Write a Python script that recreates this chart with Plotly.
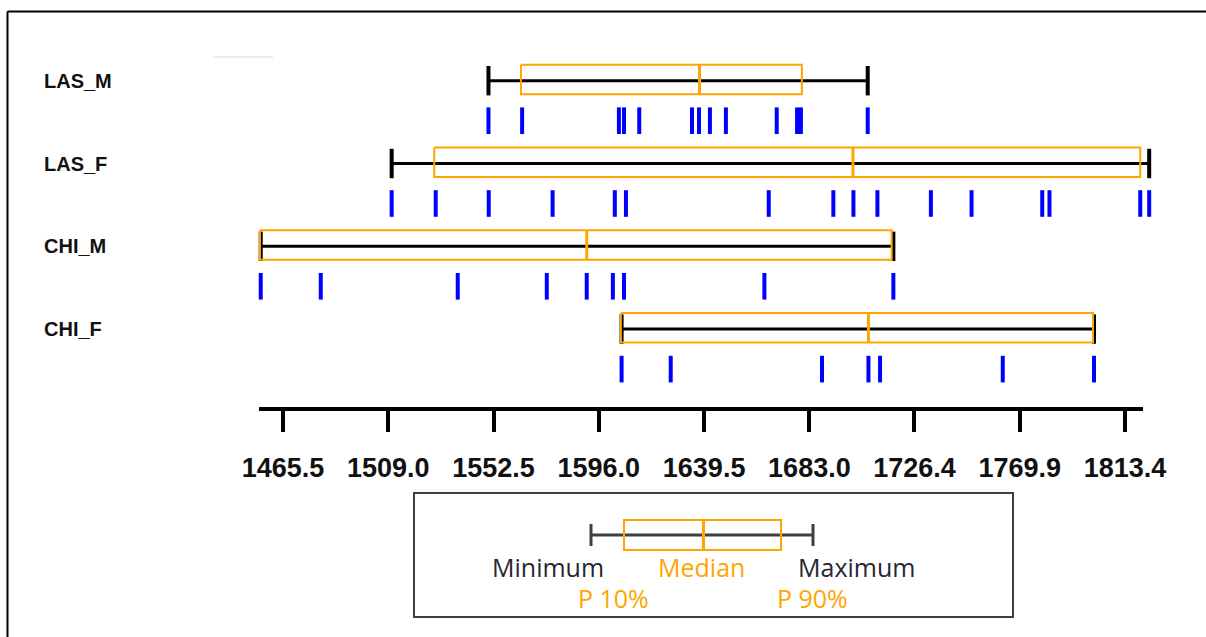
import plotly.graph_objects as go

# ---------------- data ----------------
categories = ["LAS_M", "LAS_F", "CHI_M", "CHI_F"]

las_m = [1550.4, 1564.3, 1604.3, 1606.4, 1612.7, 1634.5, 1637.4, 1641.9,
         1648.5, 1669.5, 1677.9, 1679.5, 1707.1]
las_f = [1510.4, 1528.6, 1550.5, 1576.9, 1602.6, 1607.2, 1666.2, 1692.9,
         1701.2, 1711.1, 1733.2, 1750.0, 1779.2, 1782.2, 1819.7, 1823.4]
chi_m = [1456.3, 1481.1, 1537.7, 1574.5, 1591.0, 1601.8, 1606.4, 1664.4, 1717.7]
chi_f = [1605.4, 1625.7, 1688.2, 1707.4, 1712.2, 1762.9, 1800.6]

p10 = [1563.8, 1528.0, 1456.0, 1605.1]
median = [1637.6, 1701.0, 1591.0, 1707.4]
p90 = [1679.9, 1819.7, 1717.0, 1800.2]

tick_labels = ["1465.5", "1509.0", "1552.5", "1596.0", "1639.5",
               "1683.0", "1726.4", "1769.9", "1813.4"]

series = [las_m, las_f, chi_m, chi_f]

# ---------------- layout constants ----------------
W, H = 1206, 637
PX_PER_UNIT = 2.4202
X_REF_VAL, X_REF_PX = 1465.5, 283.0
x_lo = X_REF_VAL - X_REF_PX / PX_PER_UNIT
x_hi = x_lo + W / PX_PER_UNIT

PLOT_BOTTOM_PX = 409.0
ROW0_PX, ROW_STEP_PX = 80.7, 82.8
y_top = -ROW0_PX / ROW_STEP_PX
y_bot = (PLOT_BOTTOM_PX - ROW0_PX) / ROW_STEP_PX

BOX_UP = 16.0 / ROW_STEP_PX
BOX_DOWN = 13.5 / ROW_STEP_PX
TICK_OFF = 40.0 / ROW_STEP_PX

AXIS_START = X_REF_VAL - (283 - 259) / PX_PER_UNIT
AXIS_END = X_REF_VAL + (1143 - 283) / PX_PER_UNIT

ORANGE = "#FFA500"
BLUE = "#0000FF"


def px_x(px):
    return px / W


def px_y(py):
    return 1 - py / H


fig = go.Figure()

for i, vals in enumerate(series):
    mn, mx = min(vals), max(vals)
    # whisker line
    fig.add_trace(go.Scatter(x=[mn, mx], y=[i, i], mode="lines",
                             line=dict(color="black", width=3),
                             hoverinfo="skip", showlegend=False))
    # caps
    fig.add_trace(go.Scatter(x=[mn, mx], y=[i, i], mode="markers",
                             marker=dict(symbol="line-ns", size=21,
                                         line=dict(color="black", width=4)),
                             hoverinfo="skip", showlegend=False))
    # P10-P90 box
    fig.add_trace(go.Scatter(
        x=[p10[i], p90[i], p90[i], p10[i], p10[i]],
        y=[i - BOX_UP, i - BOX_UP, i + BOX_DOWN, i + BOX_DOWN, i - BOX_UP],
        mode="lines", line=dict(color=ORANGE, width=2),
        hoverinfo="skip", showlegend=False))
    # median
    fig.add_trace(go.Scatter(x=[median[i], median[i]], y=[i - BOX_UP, i + BOX_DOWN],
                             mode="lines", line=dict(color=ORANGE, width=3),
                             hoverinfo="skip", showlegend=False))
    # individual values
    fig.add_trace(go.Scatter(x=vals, y=[i + TICK_OFF] * len(vals), mode="markers",
                             marker=dict(symbol="line-ns", size=19,
                                         line=dict(color=BLUE, width=4)),
                             hoverinfo="skip", showlegend=False))

annotations = []
for i, c in enumerate(categories):
    annotations.append(dict(text=c, x=px_x(42), xref="paper", y=i, yref="y",
                            xanchor="left", yanchor="middle", showarrow=False,
                            font=dict(family="Liberation Sans", size=20,
                                      color="#111111", weight="bold")))

shapes = []
# axis line
shapes.append(dict(type="line", xref="x", yref="paper",
                   x0=AXIS_START, x1=AXIS_END,
                   y0=px_y(PLOT_BOTTOM_PX), y1=px_y(PLOT_BOTTOM_PX),
                   line=dict(color="black", width=4)))
# outer frame (top + left)
shapes.append(dict(type="line", xref="paper", yref="paper",
                   x0=px_x(7.5), x1=1, y0=px_y(11.5), y1=px_y(11.5),
                   line=dict(color="black", width=2)))
shapes.append(dict(type="line", xref="paper", yref="paper",
                   x0=px_x(7.5), x1=px_x(7.5), y0=px_y(11.5), y1=0,
                   line=dict(color="black", width=2)))
# faint gray artifact line
shapes.append(dict(type="line", xref="paper", yref="paper",
                   x0=px_x(213), x1=px_x(273), y0=px_y(57), y1=px_y(57),
                   line=dict(color="#EBEBEB", width=2)))

# ---------------- legend box ----------------
LEG_LINE = "#404040"
shapes.append(dict(type="rect", xref="paper", yref="paper",
                   x0=px_x(414), x1=px_x(1013), y0=px_y(617), y1=px_y(493),
                   line=dict(color=LEG_LINE, width=2)))
shapes.append(dict(type="line", xref="paper", yref="paper",
                   x0=px_x(591), x1=px_x(813), y0=px_y(535), y1=px_y(535),
                   line=dict(color=LEG_LINE, width=3)))
for cx in (591, 813):
    shapes.append(dict(type="line", xref="paper", yref="paper",
                       x0=px_x(cx), x1=px_x(cx), y0=px_y(524), y1=px_y(546),
                       line=dict(color=LEG_LINE, width=3)))
shapes.append(dict(type="rect", xref="paper", yref="paper",
                   x0=px_x(624), x1=px_x(781), y0=px_y(550), y1=px_y(520),
                   line=dict(color=ORANGE, width=2)))
shapes.append(dict(type="line", xref="paper", yref="paper",
                   x0=px_x(703.5), x1=px_x(703.5), y0=px_y(550), y1=px_y(520),
                   line=dict(color=ORANGE, width=3)))

LEG_FONT = "Open Sans"
for txt, cx, cy, col in [("Minimum", 547.5, 567, "#262633"),
                         ("Median", 701, 567, ORANGE),
                         ("Maximum", 856.5, 567, "#262633"),
                         ("P 10%", 613, 598, ORANGE),
                         ("P 90%", 812.5, 598, ORANGE)]:
    annotations.append(dict(text=txt, x=px_x(cx), y=px_y(cy), xref="paper", yref="paper",
                            xanchor="center", yanchor="middle", showarrow=False,
                            font=dict(family=LEG_FONT, size=25, color=col)))

fig.update_layout(
    width=W, height=H, autosize=False,
    margin=dict(l=0, r=0, t=0, b=0),
    paper_bgcolor="white", plot_bgcolor="white",
    showlegend=False,
    xaxis=dict(range=[x_lo, x_hi], domain=[0, 1],
               tickvals=[float(t) for t in tick_labels], ticktext=tick_labels,
               ticks="outside", ticklen=22, tickwidth=4, tickcolor="black",
               showline=False, showgrid=False, zeroline=False,
               ticklabelstandoff=13,
               tickfont=dict(family="Liberation Sans", size=27, color="#111111",
                             weight="bold"),
               fixedrange=True),
    yaxis=dict(range=[y_bot, y_top], domain=[1 - PLOT_BOTTOM_PX / H, 1],
               visible=False, fixedrange=True),
    shapes=shapes,
    annotations=annotations,
)

fig.write_html("out.html", config={"displayModeBar": False},
               post_script="document.body.style.margin='0';document.body.style.overflow='hidden';")
